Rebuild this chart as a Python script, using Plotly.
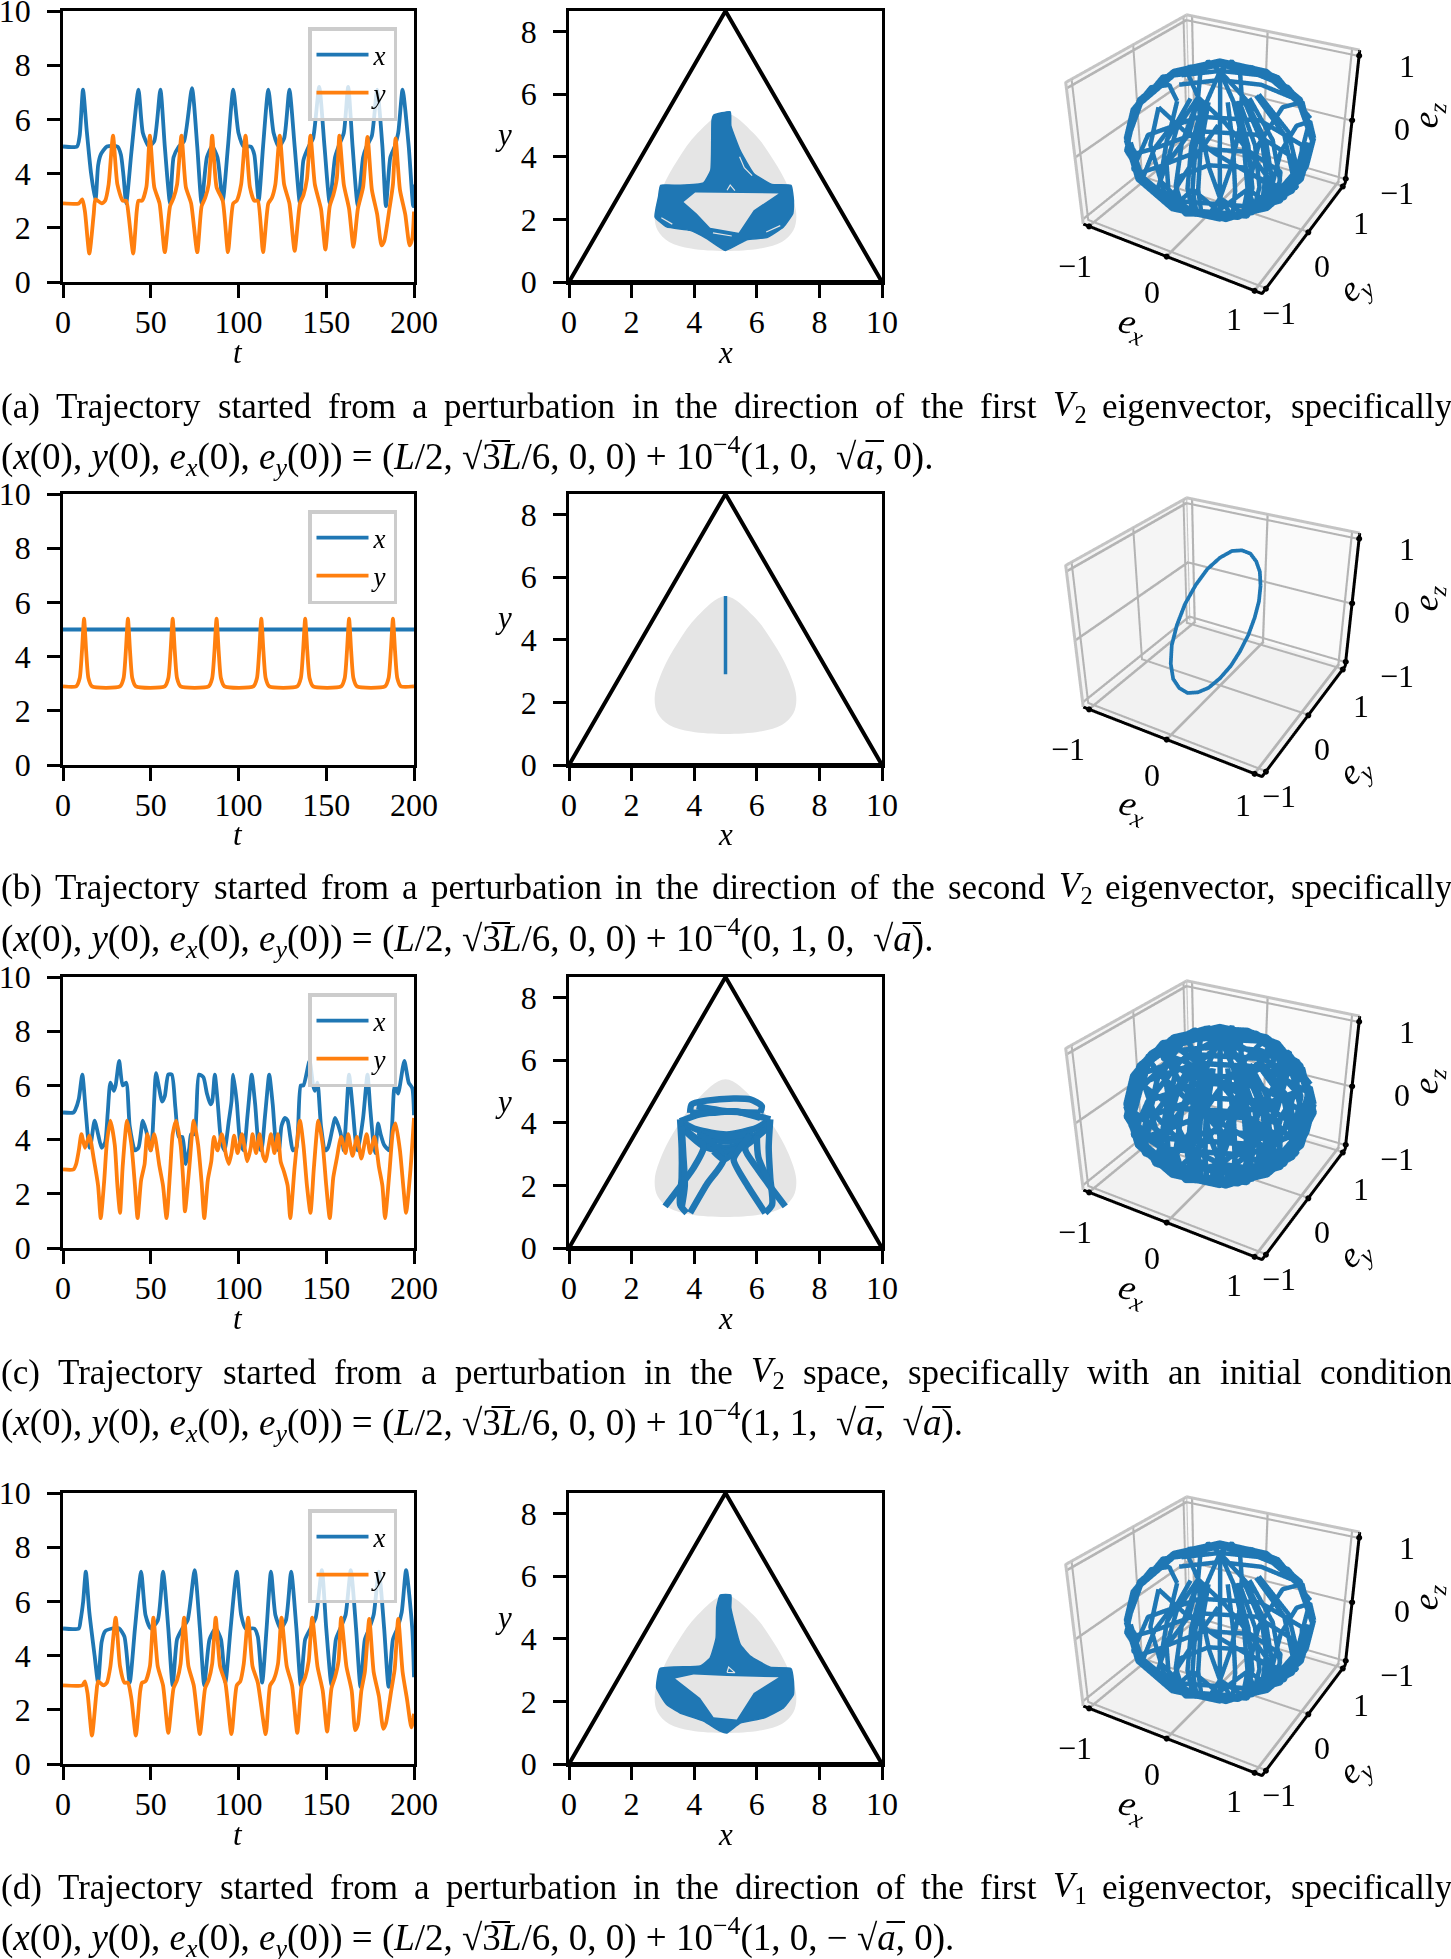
import plotly.graph_objects as go

W, H = 1451, 1959
BLUE = "#1f77b4"
ORANGE = "#ff7f0e"
GRAY = "#e5e5e5"
SERIF = "Liberation Serif"

# time series, (t, value) per panel
T_XA = [0,8,9.5,11.4,13.5,16,18.5,20,21.5,25,31,33,34.5,36,39,43,45.5,49,52,55.5,58,61,63,66,69,73.5,76.5,79,82,85,88,91,94,97,100,103,107,109,111.5,114,117,120,123,126,129,132,135,137,140,142.5,146,149,152,155,157,160,162.5,165,168,171,173,176,179,182,184,186.5,189,191,193.5,197,199.5,200]
X_A = [5,5,5.4,7.1,5.6,4,3,4.3,4.7,5,5,4.7,3.9,2.9,4.8,7.1,5.5,5,5.2,7.1,5,2.9,4.6,5,5.2,7.15,5,2.9,4.6,5,4.6,3,5,7.1,5.5,5,5,4.7,3,5,7.1,5.5,5,5.3,7.1,5,2.9,4.5,5,5.3,7.2,5,2.9,4.6,5,5.5,7.2,5,2.8,4.6,5,5.4,7.1,5,2.8,4.6,5,5.5,7.1,5,2.8,3.6]
T_YA = [0,9,11,12.5,15,17.5,18.5,22,24,26,28.5,31,34,36,37.5,40,42,43,45,47.5,49.5,52,55,58,61,63,65,67.5,70,73,76.5,79,81,83,85,87.5,91,94,97,99,101.5,104,106.5,109,111,114,117,119,121,123.5,126,129,132,135,137,139,141,143.5,147,149.5,152,154,156,157.5,160,163,165.5,168,171,173.5,176,179,181.5,183,186,188,189.5,192,195,197.5,199,200]
Y_A = [2.9,2.9,3.05,2.6,1.05,2.5,3.05,2.9,3,3.6,5.4,3.6,3,3,2.4,1.05,2.6,3,3,3.5,5.4,3.5,2.9,1.1,2.8,3.1,3.6,5.4,3.5,2.9,1.1,2.8,3.1,3.6,5.4,3.5,3,1.1,2.9,3,3.6,5.4,3.5,3,3,1.1,2.9,3.1,3.6,5.4,3.6,2.9,1.15,2.9,3.2,3.8,5.4,3.6,2.7,1.2,2.8,3.2,3.8,5.4,3.6,2.7,1.3,2.7,3.5,5.35,3.4,2.5,1.35,1.5,2.7,3.6,5.3,3.4,2.5,1.35,1.6,2.6]

T_XB = [0,200]
X_B = [5,5]
T_YB = [0,7.5,9.5,10.8,12,13.2,14.5,16.5,32.5,34.5,35.8,37,38.2,39.5,41.5,58,60,61.3,62.5,63.7,65,67,83,85,86.3,87.5,88.7,90,92,108.5,110.5,111.8,113,114.2,115.5,117.5,133.5,135.5,136.8,138,139.2,140.5,142.5,158.5,160.5,161.8,163,164.2,165.5,167.5,183.5,185.5,186.8,188,189.2,190.5,192.5,200]
Y_B = [2.9,2.9,3.2,4.2,5.4,4.2,3.2,2.9,2.9,3.2,4.2,5.4,4.2,3.2,2.9,2.9,3.2,4.2,5.4,4.2,3.2,2.9,2.9,3.2,4.2,5.4,4.2,3.2,2.9,2.9,3.2,4.2,5.4,4.2,3.2,2.9,2.9,3.2,4.2,5.4,4.2,3.2,2.9,2.9,3.2,4.2,5.4,4.2,3.2,2.9,2.9,3.2,4.2,5.4,4.2,3.2,2.9,2.9]

T_XC = [0,6,7,9,11,13,15,16,18,20,22,24,25.5,27,29,30,32,34,36,38,41,43,45.5,47.5,50,51,52,53,56.5,58,60,62,64,66,68,70,72,73,75,76,77.5,80,82,84,85,86.5,88,90,92,94.5,96,97,99,101,103,105,106,107.5,109.5,111.5,113,115,116,117.5,119.5,121.5,123,124.5,126.5,128,129.5,131,133,134,135.5,137,140.5,142.5,143.5,145,147,149.5,151,153.5,155,157,159,160,161.5,163,165,167,168,171,173.5,175,177,178,179.5,181,183,186,187.5,189,191,192,194.5,197,199,200]
X_C = [5,5,5.1,5.5,6.4,5,3.7,3.9,4.7,4.2,3.7,3.9,5,6.1,5.8,6,6.9,6,6.1,4.5,3.6,3.7,4.7,4.3,3.6,4.2,5.5,6.45,5.4,5.6,6.4,6.4,5.2,4.1,4.1,3.1,3.7,4.2,4.2,5,6.4,6.3,5.7,5.3,5.4,6.4,5.5,4,3.6,4.7,5.4,6.4,5.4,3.9,3.6,4.8,5.5,6.4,5.3,3.8,3.6,4.8,5.5,6.4,5.3,3.8,3.6,4.5,4.8,4.7,4.1,3.6,3.7,4.5,6,6,6.9,6,5.8,6.1,4.5,3.6,3.7,4.4,4.8,4.5,4,3.6,5,6.4,5.2,3.8,3.6,4.8,6.4,5.2,3.8,3.5,4.6,4.2,3.8,3.6,4.5,6,5.7,6,6.9,6.1,5.9,4.9]
T_YC = [0,6,7.5,9,10.5,12.5,15,17.5,20,21.5,23.5,25,27,29.5,31,32.5,34,36.5,39,41,42.5,44.5,46.5,48,50,52,55,57,59,61,62.5,64.5,67,68.5,69.5,72,74.5,77,79,80.5,82.5,84.5,86,88,90.5,93,94.5,96,97.5,99.5,102,104,105,107,108,110,112,114,115.5,117,118.5,120.5,122.5,124,126,128,129.5,132,135,137,139,141,143,145.5,148,150,152,154,156,158.5,161,162.5,165,167.5,170,173,175,177.5,180,182,183.5,186,188,189.5,192,194,195.5,198,200]
Y_C = [2.9,2.9,3.1,3.6,4.2,3.7,4.15,3.3,2.3,1.1,2.5,3.9,4.7,3.8,2.3,1.3,3,4.7,3.8,2.3,1.1,2.5,3.1,4.2,3.6,4.2,3,2.3,1.1,2.8,4.2,4.7,3.8,2.5,1.35,3,4.7,3.8,2.4,1.1,2.5,3.2,4.1,3.6,4.2,3.4,3.1,3.5,4.15,3.5,4.2,3.5,3.2,3.7,4.2,3.5,4.2,3.4,3.2,3.7,4.2,3.5,4.2,3.2,2.8,2.3,1.1,3,4.7,3.8,2.3,1.3,3,4.7,3.8,2.3,1.1,2.6,3.3,4.1,3.5,4.2,3.4,4.1,3.3,4.2,3.5,4.1,3,2.3,1.1,2.8,4.3,4.6,3.6,2.2,1.3,2.9,4.8]

T_XD = [0,9,10,11.5,13,15,18,20,22,24,28,32,35,38,41,44.5,47,50,54,57,60,62.5,65,68,71,75,78,80.5,83.5,87,90,92.5,95.5,99,101.5,104,109,111,113.5,116,118.5,121,124,127,130,133,135.5,138,141,144,147.5,150,153,155.5,158,161,164,167,169.5,172,174.5,177,180,183,185.5,188,190.5,193,195.5,199,200]
X_D = [5,5,5.3,6,7.1,5.6,4,3,4.5,4.9,5,5,4.7,3,5,7.1,5.5,5,5.3,7.1,5,2.9,4.6,5,5.3,7.15,5,2.9,4.6,5,4.6,3,5,7.1,5.5,5,5,4.7,3,5,7.1,5.5,5,5.3,7.1,5,2.9,4.6,5,5.4,7.15,5,2.9,4.6,5,5.5,7.15,5,2.85,4.6,5,5.5,7.1,5,2.85,4.6,5,5.6,7.15,5,3.2]
T_YD = [0,11,12.5,14,16.5,19,20,23,25,27,30,32.5,35,37,39,41.5,44,45,47,49.5,51.5,54,57,60,63,65,67,69,71.5,74.5,78,81,83,85,87,89.5,92.5,96,99,101,103,105.5,108,111,115.5,118,120,122.5,124.5,127.5,130.5,133.5,136,138,140,142,145,148,150.5,153,155,157,158.5,161.5,164.5,166.5,168,170,172,174.5,177,180,182.5,184,187,189,191,193.5,196,198.5,200]
Y_D = [2.9,2.9,3.05,2.6,1.05,2.6,3.05,2.9,3,3.6,5.4,3.6,3,3,2.4,1.05,2.7,3,3.05,3.6,5.4,3.6,2.9,1.15,2.8,3.1,3.7,5.4,3.6,2.9,1.1,2.8,3.1,3.7,5.4,3.6,3,1.1,2.9,3.05,3.7,5.4,3.6,3,1.1,2.9,3.1,3.7,5.4,3.6,2.9,1.15,2.9,3.2,3.8,5.4,3.6,2.7,1.2,2.8,3.2,3.8,5.4,3.6,2.7,1.25,1.45,2.7,3.4,5.35,3.4,2.5,1.3,1.5,2.7,3.5,5.35,3.4,2.4,1.35,1.85]

# middle column: gray reachable region and the swept trajectory areas
REGION_X = [5,5.9,6.53,7,7.26,7.17,6.8,6.1,5,3.9,3.2,2.83,2.74,3,3.47,4.1,5]
REGION_Y = [5.39,4.75,3.9,3.04,2.19,1.65,1.28,1.07,0.99,1.07,1.28,1.65,2.19,3.04,3.9,4.75,5.39]
TRI_X = [0,5,10,0]
TRI_Y = [0,8.66,0,0]

BLOB_AX = [4.62,5.15,5.17,5.47,5.9,6.48,7.09,7.17,7.15,6.85,6.32,5.68,5,4.4,3.87,3.12,2.75,2.86,2.93,3.55,4.3,4.53,4.56,4.57,4.62]
BLOB_AY = [5.33,5.44,5,4.2,3.47,3.12,3.09,2.61,2.19,1.76,1.42,1.35,1.01,1.39,1.65,1.76,2.08,2.72,3.09,3.09,3.17,3.57,4.53,5.17,5.33]
HOLE_AX = [4.03,6.7,5.9,5.42,4.51,4.08,3.66,4.03]
HOLE_AY = [2.86,2.83,2.29,1.57,1.73,2.19,2.56,2.86]
SLIT_AX = [5.45,5.6,5.85,None,5.05,5.15,5.3,None,2.95,3.3,None,6.3,6.75,None,4.6,5.2]
SLIT_AY = [4.0,3.65,3.4,None,2.93,3.1,2.92,None,2.05,1.85,None,1.6,1.8,None,1.57,1.47]

BLOB_DX = [4.83,5.17,5.17,5.47,5.79,6.43,7.09,7.17,7.17,6.85,6.22,5.47,5.04,4.83,4.3,3.55,3.12,2.8,2.91,4.19,4.51,4.7,4.72,4.83]
BLOB_DY = [5.4,5.4,4.99,3.82,3.45,3.09,3.05,2.65,2.22,1.79,1.47,1.31,0.99,1.05,1.37,1.63,1.9,2.43,3.05,3.13,3.39,4.03,4.99,5.4]
HOLE_DX = [3.39,3.98,5.04,6.7,5.9,5.36,4.62,4.19,3.39]
HOLE_DY = [2.73,2.86,2.81,2.77,2.27,1.42,1.49,2.11,2.73]
SLIT_DX = [5.05,5.1,5.3,5.05]
SLIT_DY = [2.93,3.1,2.92,2.93]

MID_BX = [5,5]
MID_BY = [2.9,5.4]

MID_CX = [3.87,3.92,4.4,5.26,5.79,6.16,6.11,None,3.87,4.62,5.26,6.11,None,4.08,5.04,6.11,None,3.55,4.08,5.04,6,6.43,None,3.55,4.19,5.26,6.43,None,3.55,4.19,5.04,5.68,6.43,None,3.7,4.3,5,5.6,6.3,None,4.2,5,5.8,None,4.1,5,5.9,None,4.4,5,5.6,None,3.55,3.6,3.6,3.55,3.76,None,3.6,3.65,3.7,3.6,None,3.07,3.6,3.98,4.3,4.19,None,3.87,4.4,4.94,4.62,4.19,None,6.91,6.38,6,5.63,5.79,None,6.27,5.68,5.26,5.47,5.79,None,6.43,6.38,6.43,6.49,6.27,None,6,6.05,6.43,None,4.62,4.94,5.26]
MID_CY = [4.32,4.59,4.71,4.78,4.75,4.53,4.32,None,4.32,4.32,4.37,4.16,None,4.53,4.37,4.32,None,4.05,3.79,3.63,3.84,4.11,None,4.05,4.27,4.37,4.11,None,3.95,3.41,3.2,3.41,4,None,3.75,3.25,3.1,3.25,3.8,None,3.55,3.4,3.55,None,3.7,3.55,3.7,None,3.3,3.05,3.3,None,4.11,3.2,2.24,1.39,1.12,None,3.9,3,2,1.3,None,1.33,2.03,2.56,3.2,3.63,None,1.12,2.03,2.83,3.31,3.63,None,1.33,2.03,2.56,3.15,3.63,None,1.12,2.03,2.83,3.2,3.63,None,4.11,3.2,2.24,1.39,1.12,None,3.6,2.9,2.03,None,3.09,2.83,3.04]

# orientation vector sphere, rough loops traced by eye
RIM = [(.87,.5,0),(.625,.65,.43),(.22,.625,.75),(-.25,.43,.87),(-.65,.125,.75),(-.875,-.217,.43),(-.87,-.5,0),(-.625,-.65,-.43),(-.22,-.625,-.75),(.25,-.43,-.87),(.65,-.125,-.75),(.875,.217,-.43),(.87,.5,0)]
RIM_TOP1 = [(.94,.305,.12),(.71,.45,.54),(.31,.43,.85),(-.14,.24,.96),(-.53,-.06,.85),(-.75,-.39,.54),(-.74,-.665,.12)]
RIM_TOP2 = [(.96,.22,.165),(.73,.36,.565),(.35,.34,.875),(-.095,.15,.985),(-.47,-.13,.875),(-.68,-.45,.565),(-.68,-.72,.165)]
RIM_LOW1 = [(-.74,-.665,.12),(-.51,-.81,-.3),(-.11,-.79,-.61),(.34,-.6,-.72),(.73,-.3,-.61),(.95,.03,-.3),(.94,.305,.12)]
RIM_LOW2 = [(-.68,-.72,.165),(-.45,-.86,-.24),(-.07,-.84,-.54),(.375,-.65,-.65),(.75,-.37,-.54),(.96,-.05,-.24),(.96,.22,.165)]
RIM_LOW3 = [(-.58,-.79,.225),(-.36,-.92,-.155),(0,-.9,-.44),(.42,-.72,-.55),(.77,-.45,-.44),(.97,-.15,-.155),(.97,.1,.225)]
MER_45 = [(0,0,1),(.35,-.35,.87),(.61,-.61,.5),(.71,-.71,0),(.61,-.61,-.5),(.35,-.35,-.87),(0,0,-1),(-.35,.35,-.87),(-.61,.61,-.5),(-.71,.71,0),(-.61,.61,.5),(-.35,.35,.87),(0,0,1)]
MER_30 = [(0,0,1),(.43,-.25,.87),(.75,-.43,.5),(.87,-.5,0),(.75,-.43,-.5),(.43,-.25,-.87),(0,0,-1)]
MER_60 = [(0,0,1),(.25,-.43,.87),(.43,-.75,.5),(.5,-.87,0),(.43,-.75,-.5),(.25,-.43,-.87),(0,0,-1)]
MER_15 = [(.48,-.13,.87),(.84,-.22,.5),(.97,-.26,0),(.84,-.22,-.5),(.48,-.13,-.87)]
MER_75 = [(0,0,1),(.13,-.48,.87),(.22,-.84,.5),(.26,-.97,0),(.22,-.84,-.5),(.13,-.48,-.87),(0,0,-1),(-.13,.48,-.87),(-.22,.84,-.5),(-.26,.97,0),(-.22,.84,.5),(-.13,.48,.87),(0,0,1)]
MER_85 = [(.04,-.5,.87),(.08,-.86,.5),(.09,-1,0),(.08,-.86,-.5),(.04,-.5,-.87)]
MER_10 = [(.49,-.09,.87),(.85,-.15,.5),(.98,-.17,0),(.85,-.15,-.5),(.49,-.09,-.87)]
MER_25 = [(.45,-.21,.87),(.79,-.37,.5),(.91,-.42,0),(.79,-.37,-.5),(.45,-.21,-.87)]
MER_33 = [(.42,-.27,.87),(.73,-.47,.5),(.84,-.54,0),(.73,-.47,-.5),(.42,-.27,-.87)]
MER_38 = [(.39,-.31,.87),(.69,-.54,.5),(.79,-.62,0),(.69,-.54,-.5),(.39,-.31,-.87)]
MER_42 = [(.37,-.33,.87),(.64,-.58,.5),(.74,-.67,0),(.64,-.58,-.5),(.37,-.33,-.87)]
MER_52 = [(.31,-.39,.87),(.54,-.69,.5),(.62,-.79,0),(.54,-.69,-.5),(.31,-.39,-.87)]
MER_68 = [(.19,-.46,.87),(.32,-.81,.5),(.37,-.93,0),(.32,-.81,-.5),(.19,-.46,-.87)]
MER_72 = [(.15,-.48,.87),(.27,-.83,.5),(.31,-.95,0),(.27,-.83,-.5),(.15,-.48,-.87)]
MER_78 = [(.1,-.49,.87),(.18,-.85,.5),(.21,-.98,0),(.18,-.85,-.5),(.1,-.49,-.87)]
MER_95 = [(-.04,-.5,.87),(-.08,-.87,.5),(-.09,-1,0),(-.08,-.87,-.5),(-.04,-.5,-.87)]
MER_125 = [(-.29,-.41,.87),(-.5,-.71,.5),(-.57,-.82,0),(-.5,-.71,-.5),(-.29,-.41,-.87)]
MER_150 = [(-.43,-.25,.87),(-.75,-.43,.5),(-.87,-.5,0),(-.75,-.43,-.5),(-.43,-.25,-.87)]
ARC_Z7 = [(.62,.36,.7),(.36,.62,.7),(0,.71,.7),(-.36,.62,.7),(-.62,.36,.7)]
ARC_Z5 = [(.75,.43,.5),(.43,.75,.5),(0,.87,.5),(-.43,.75,.5),(-.75,.43,.5)]
ARC_Z3 = [(.82,.48,.3),(.48,.82,.3),(0,.95,.3),(-.48,.82,.3),(-.82,.48,.3)]
LEFT_R5 = [(-.87,.5,0),(-.87,.35,.35),(-.87,0,.5),(-.87,-.35,.35),(-.87,-.5,0),(-.87,-.35,-.35),(-.87,0,-.5),(-.87,.35,-.35),(-.87,.5,0)]
LEFT_R7 = [(-.71,.71,0),(-.71,.5,.5),(-.71,0,.71),(-.71,-.5,.5),(-.71,-.71,0),(-.71,-.5,-.5),(-.71,0,-.71),(-.71,.5,-.5),(-.71,.71,0)]
RIGHT_R7 = [(.71,.71,0),(.71,.5,.5),(.71,0,.71),(.71,-.5,.5),(.71,-.71,0),(.71,-.5,-.5),(.71,0,-.71),(.71,.5,-.5),(.71,.71,0)]
RIGHT_R5 = [(.87,.5,0),(.87,.35,.35),(.87,0,.5),(.87,-.35,.35),(.87,-.5,0),(.87,-.35,-.35),(.87,0,-.5),(.87,.35,-.35),(.87,.5,0)]
RIGHT_R8 = [(.5,.87,0),(.5,.61,.61),(.5,0,.87),(.5,-.61,.61),(.5,-.87,0),(.5,-.61,-.61),(.5,0,-.87),(.5,.61,-.61),(.5,.87,0)]
LOW_Z5 = [(.87,0,-.5),(.61,-.61,-.5),(0,-.87,-.5),(-.61,-.61,-.5),(-.87,0,-.5),(-.61,.61,-.5),(0,.87,-.5),(.61,.61,-.5),(.87,0,-.5)]
LOW_Z3 = [(.95,0,-.3),(.67,-.67,-.3),(0,-.95,-.3),(-.67,-.67,-.3),(-.95,0,-.3),(-.67,.67,-.3),(0,.95,-.3),(.67,.67,-.3),(.95,0,-.3)]
LOW_Z7 = [(.71,0,-.7),(.5,-.5,-.7),(0,-.71,-.7),(-.5,-.5,-.7),(-.71,0,-.7),(-.5,.5,-.7),(0,.71,-.7),(.5,.5,-.7),(.71,0,-.7)]
LOW_Z85 = [(.53,0,-.85),(.37,-.37,-.85),(0,-.53,-.85),(-.37,-.37,-.85),(-.53,0,-.85),(-.37,.37,-.85),(0,.53,-.85),(.37,.37,-.85),(.53,0,-.85)]
MID_Z0 = [(1,0,0),(.71,-.71,0),(0,-1,0),(-.71,-.71,0),(-1,0,0),(-.71,.71,0),(0,1,0),(.71,.71,0),(1,0,0)]
MID_Z15 = [(.99,0,.15),(.7,-.7,.15),(0,-.99,.15),(-.7,-.7,.15),(-.99,0,.15),(-.7,.7,.15),(0,.99,.15),(.7,.7,.15),(.99,0,.15)]
HIGH_Z5 = [(.87,0,.5),(.61,-.61,.5),(0,-.87,.5),(-.61,-.61,.5),(-.87,0,.5),(-.61,.61,.5),(0,.87,.5),(.61,.61,.5),(.87,0,.5)]
HIGH_Z8 = [(.6,0,.8),(.42,-.42,.8),(0,-.6,.8),(-.42,-.42,.8),(-.6,0,.8),(-.42,.42,.8),(0,.6,.8),(.42,.42,.8),(.6,0,.8)]
MER_110 = [(0,0,1),(-.17,-.47,.87),(-.3,-.81,.5),(-.34,-.94,0),(-.3,-.81,-.5),(-.17,-.47,-.87),(0,0,-1),(.17,.47,-.87),(.3,.81,-.5),(.34,.94,0),(.3,.81,.5),(.17,.47,.87),(0,0,1)]
MER_0 = [(0,0,1),(.5,0,.87),(.87,0,.5),(1,0,0),(.87,0,-.5),(.5,0,-.87),(0,0,-1),(-.5,0,-.87),(-.87,0,-.5),(-1,0,0),(-.87,0,.5),(-.5,0,.87),(0,0,1)]
MER_20 = [(.47,.17,.87),(.81,.3,.5),(.94,.34,0),(.81,.3,-.5),(.47,.17,-.87)]
# tilted circles
TILT_1 = [(.71,-.71,0),(.83,-.41,.41),(.71,0,.71),(.41,.41,.82),(0,.71,.71),(-.41,.83,.41),(-.71,.71,0),(-.83,.41,-.41),(-.71,0,-.71),(-.41,-.41,-.82),(0,-.71,-.71),(.41,-.83,-.41),(.71,-.71,0)]
TILT_2 = [(.71,-.71,0),(.41,-.83,.41),(0,-.71,.71),(-.41,-.41,.82),(-.71,0,.71),(-.83,.41,.41),(-.71,.71,0),(-.41,.83,-.41),(0,.71,-.71),(.41,.41,-.82),(.71,0,-.71),(.83,-.41,-.41),(.71,-.71,0)]
TILT_3 = [(.26,-.97,0),(.47,-.77,.44),(.54,-.38,.76),(.47,.13,.87),(.28,.6,.76),(.01,.91,.44),(-.26,.97,0),(-.47,.77,-.44),(-.54,.38,-.76),(-.47,-.13,-.87),(-.28,-.6,-.76),(-.01,-.91,-.44),(.26,-.97,0)]
TILT_4 = [(.26,-.97,0),(-.01,-.91,.44),(-.28,-.6,.76),(-.47,-.13,.87),(-.54,.38,.76),(-.47,.77,.44),(-.26,.97,0),(.01,.91,-.44),(.28,.6,-.76),(.47,.13,-.87),(.54,-.38,-.76),(.47,-.77,-.44),(.26,-.97,0)]
TILT_5 = [(.97,-.26,0),(.91,.02,.44),(.6,.28,.76),(.13,.47,.87),(-.38,.54,.76),(-.77,.47,.44),(-.97,.26,0),(-.91,-.02,-.44),(-.6,-.28,-.76),(-.13,-.47,-.87),(.38,-.54,-.76),(.77,-.47,-.44),(.97,-.26,0)]
TILT_6 = [(.97,-.26,0),(.77,-.46,.44),(.38,-.54,.76),(-.13,-.47,.87),(-.6,-.28,.76),(-.91,-.02,.44),(-.97,.26,0),(-.77,.46,-.44),(-.38,.54,-.76),(.13,.47,-.87),(.6,.28,-.76),(.91,.02,-.44),(.97,-.26,0)]

LOOPS_A = [RIM,RIM_TOP1,RIM_TOP2,RIM_LOW1,RIM_LOW2,RIM_LOW3,MER_45,MER_30,MER_60,MER_15,MER_75,MER_85,MER_33,MER_38,MER_42,MER_52,MER_72,MER_78,MER_10,MER_25,MER_95,ARC_Z7,ARC_Z5,ARC_Z3,LEFT_R5,LEFT_R7,RIGHT_R7,RIGHT_R5,LOW_Z3,LOW_Z5,LOW_Z7,LOW_Z85,TILT_1[6:13],TILT_2[6:13],TILT_4[6:13],TILT_5[6:13],TILT_6[6:13],TILT_3[7:13]]
LOOPS_C = [RIM,RIM_TOP1,RIM_TOP2,RIM_LOW1,RIM_LOW2,RIM_LOW3,MER_45,MER_30,MER_60,MER_15,MER_75,MER_85,MER_110,MER_0,MER_20,MER_10,MER_25,MER_33,MER_38,MER_42,MER_52,MER_68,MER_72,MER_78,MER_95,MER_125,MER_150,ARC_Z7,ARC_Z5,ARC_Z3,LEFT_R5,LEFT_R7,RIGHT_R7,RIGHT_R5,RIGHT_R8,LOW_Z3,LOW_Z5,LOW_Z7,LOW_Z85,MID_Z0,MID_Z15,HIGH_Z5,HIGH_Z8,TILT_1,TILT_2,TILT_3,TILT_4,TILT_5,TILT_6]

RING_EX = [0]*25
RING_EY = [.95,.92,.82,.67,.47,.25,0,-.25,-.47,-.67,-.82,-.92,-.95,-.92,-.82,-.67,-.47,-.25,0,.25,.47,.67,.82,.92,.95]
RING_EZ = [0,.25,.47,.67,.82,.92,.95,.92,.82,.67,.47,.25,0,-.25,-.47,-.67,-.82,-.92,-.95,-.92,-.82,-.67,-.47,-.25,0]

T_TICKS = [0,50,100,150,200]
V_TICKS = [0,2,4,6,8,10]
XM_TICKS = [0,2,4,6,8,10]
YM_TICKS = [0,2,4,6,8]
E_TICKS = [-1,0,1]
E_LABELS = ["−1","0","1"]
E_EDGE = 1.08

ROW_DY = [0,483,966,1482]
LINE_3D = [9, 7.5, 11, 9]

# pixel places of the 3D tick labels inside a row
EX_LABEL_POS = [(1075,266),(1152,292),(1234,319)]
EX_LABEL_POS_B = [(1068,266),(1152,292),(1243,322)]
EY_LABEL_POS = [(1279,313),(1322,266),(1361,223)]
EZ_LABEL_POS = [(1397,193),(1402,129),(1407,66)]

CAPTIONS = [
    ("(a) Trajectory started from a perturbation in the direction of the first V2 eigenvector, specifically", 406,
     "(<i>x</i>(0), <i>y</i>(0), <i>e<sub>x</sub></i>(0), <i>e<sub>y</sub></i>(0)) = (<i>L</i>/2, √3\u0305<i>L</i>/6, 0, 0) + 10<sup>−4</sup>(1, 0,  √<i>a</i>\u0305, 0)."),
    ("(b) Trajectory started from a perturbation in the direction of the second V2 eigenvector, specifically", 888,
     "(<i>x</i>(0), <i>y</i>(0), <i>e<sub>x</sub></i>(0), <i>e<sub>y</sub></i>(0)) = (<i>L</i>/2, √3\u0305<i>L</i>/6, 0, 0) + 10<sup>−4</sup>(0, 1, 0,  √<i>a</i>\u0305)."),
    ("(c) Trajectory started from a perturbation in the V2 space, specifically with an initial condition", 1372,
     "(<i>x</i>(0), <i>y</i>(0), <i>e<sub>x</sub></i>(0), <i>e<sub>y</sub></i>(0)) = (<i>L</i>/2, √3\u0305<i>L</i>/6, 0, 0) + 10<sup>−4</sup>(1, 1,  √<i>a</i>\u0305,  √<i>a</i>\u0305)."),
    ("(d) Trajectory started from a perturbation in the direction of the first V1 eigenvector, specifically", 1887,
     "(<i>x</i>(0), <i>y</i>(0), <i>e<sub>x</sub></i>(0), <i>e<sub>y</sub></i>(0)) = (<i>L</i>/2, √3\u0305<i>L</i>/6, 0, 0) + 10<sup>−4</sup>(1, 0, − √<i>a</i>\u0305, 0)."),
]

# Times advance widths, used to spread the caption words over the full line
CHAR_W = dict(a=444,b=500,c=444,d=500,e=444,f=333,g=500,h=500,i=278,j=278,k=500,l=278,m=778,n=500,o=500,p=500,q=500,r=333,s=389,t=278,u=500,v=500,w=722,x=500,y=500,z=444,T=611)
CHAR_W.update({"(":333, ")":333, ",":250})
CAP_SIZE = 35

# scene canvas height and the middle of the box inside a row
SCENE_H = 570
BOX_MID_Y = 138
BOX_MID_X = 1220
# the first scene needs room above the page, so the figure is taller and slid up
PAGE_TOP = 150
FIG_H = H + PAGE_TOP


def px_x(p):
    return p / W


def px_y(p):
    return 1 - (p + PAGE_TOP) / FIG_H


def word_w(word):
    if word in ("V1", "V2"):
        return 0.95 * CAP_SIZE
    return sum(CHAR_W.get(c, 500) for c in word) / 1000 * CAP_SIZE


def note(text, x, y, size=CAP_SIZE, xanchor="left", angle=0):
    fig.add_annotation(text=text, x=px_x(x), y=px_y(y), xref="paper", yref="paper", showarrow=False,
                       xanchor=xanchor, yanchor="middle", textangle=angle, borderpad=0,
                       font=dict(family=SERIF, size=size, color="black"))


def axis2d(dom, rng, ticks, anchor, standoff):
    return dict(domain=dom, range=rng, tickvals=ticks, ticks="outside", ticklen=13, tickwidth=2.6,
                tickcolor="black", showline=True, linecolor="black", linewidth=2.8, mirror=True,
                showgrid=False, zeroline=False, anchor=anchor, ticklabelstandoff=standoff, automargin=False,
                ticklabeloverflow="allow",
                tickfont=dict(family=SERIF, size=32, color="black"))


def flat(loops):
    ex, ey, ez = [], [], []
    for loop in loops:
        for p in loop:
            ex.append(p[0])
            ey.append(p[1])
            ez.append(p[2])
        ex.append(None)
        ey.append(None)
        ez.append(None)
    return ex, ey, ez


def scene_axis(color):
    return dict(range=[-E_EDGE, E_EDGE], tickvals=E_TICKS, title=dict(text=""), showticklabels=False,
                showbackground=True, backgroundcolor=color, gridcolor="#b4b4b4", gridwidth=6,
                showline=False, zeroline=False, showspikes=False, ticks="")


fig = go.Figure()
layout = {}

series = [(T_XA, X_A, T_YA, Y_A), (T_XB, X_B, T_YB, Y_B), (T_XC, X_C, T_YC, Y_C), (T_XD, X_D, T_YD, Y_D)]
loops3d = [flat(LOOPS_A), (RING_EX, RING_EY, RING_EZ), flat(LOOPS_C), flat(LOOPS_A)]

for r, (tx, vx, ty, vy) in enumerate(series):
    dy = ROW_DY[r]
    a, b = 2 * r + 1, 2 * r + 2
    xa, ya, xb, yb = f"x{a}", f"y{a}", f"x{b}", f"y{b}"
    leg = "legend" if r == 0 else f"legend{r + 1}"

    fig.add_trace(go.Scatter(x=tx, y=vx, name="<i>x</i>", mode="lines", xaxis=xa, yaxis=ya, legend=leg,
                             line=dict(color=BLUE, width=3.8, shape="spline", smoothing=0.6)))
    fig.add_trace(go.Scatter(x=ty, y=vy, name="<i>y</i>", mode="lines", xaxis=xa, yaxis=ya, legend=leg,
                             line=dict(color=ORANGE, width=3.8, shape="spline", smoothing=0.6)))
    layout[leg] = dict(x=px_x(308), y=px_y(27 + dy), xanchor="left", yanchor="top",
                       bgcolor="rgba(255,255,255,0.8)", bordercolor="#cccccc", borderwidth=3.5,
                       itemwidth=52, font=dict(family=SERIF, size=27, color="black"))

    xdom_t, xdom_m = [px_x(63), px_x(414)], [px_x(569), px_x(882)]
    ydom = [px_y(282 + dy), px_y(11 + dy)]
    layout[f"xaxis{a}"] = axis2d(xdom_t, [0, 200], T_TICKS, ya, -3)
    layout[f"yaxis{a}"] = axis2d(ydom, [0, 10], V_TICKS, xa, 10)
    layout[f"xaxis{b}"] = axis2d(xdom_m, [0, 10], XM_TICKS, yb, -3)
    layout[f"yaxis{b}"] = axis2d(ydom, [0, 8.66], YM_TICKS, xb, 10)

    fig.add_trace(go.Scatter(x=REGION_X, y=REGION_Y, mode="lines", fill="toself", fillcolor=GRAY, showlegend=False,
                             xaxis=xb, yaxis=yb, line=dict(width=0, color=GRAY, shape="spline", smoothing=1)))
    if r == 0 or r == 3:
        bx, by = (BLOB_AX, BLOB_AY) if r == 0 else (BLOB_DX, BLOB_DY)
        hx, hy = (HOLE_AX, HOLE_AY) if r == 0 else (HOLE_DX, HOLE_DY)
        sx, sy = (SLIT_AX, SLIT_AY) if r == 0 else (SLIT_DX, SLIT_DY)
        fig.add_trace(go.Scatter(x=bx, y=by, mode="lines", fill="toself", fillcolor=BLUE, showlegend=False,
                                 xaxis=xb, yaxis=yb, line=dict(width=1.5, color=BLUE, shape="spline", smoothing=0.4)))
        fig.add_trace(go.Scatter(x=hx, y=hy, mode="lines", fill="toself", fillcolor=GRAY, showlegend=False,
                                 xaxis=xb, yaxis=yb, line=dict(width=0, color=GRAY)))
        fig.add_trace(go.Scatter(x=sx, y=sy, mode="lines", showlegend=False, xaxis=xb, yaxis=yb,
                                 line=dict(width=1.2, color=GRAY)))
    elif r == 1:
        fig.add_trace(go.Scatter(x=MID_BX, y=MID_BY, mode="lines", showlegend=False, xaxis=xb, yaxis=yb,
                                 line=dict(width=3.5, color=BLUE)))
    else:
        fig.add_trace(go.Scatter(x=MID_CX, y=MID_CY, mode="lines", showlegend=False, xaxis=xb, yaxis=yb,
                                 line=dict(width=6.5, color=BLUE, shape="spline", smoothing=0.7)))
    fig.add_trace(go.Scatter(x=TRI_X, y=TRI_Y, mode="lines", showlegend=False, xaxis=xb, yaxis=yb,
                             line=dict(width=4, color="black")))

    ex, ey, ez = loops3d[r]
    scene = "scene" if r == 0 else f"scene{r + 1}"
    fig.add_trace(go.Scatter3d(x=ex, y=ey, z=ez, mode="lines", showlegend=False, scene=scene,
                               connectgaps=False, line=dict(color=BLUE, width=LINE_3D[r])))
    lo, hi = -E_EDGE, E_EDGE
    # gray outline of the box panes
    fig.add_trace(go.Scatter3d(x=[lo, lo, lo, hi, None, lo, lo], y=[lo, lo, hi, hi, None, hi, hi],
                               z=[lo, hi, hi, hi, None, lo, hi], mode="lines", showlegend=False, scene=scene,
                               connectgaps=False, line=dict(color="#c4c4c4", width=6)))
    # black edges on the three outer box edges
    fig.add_trace(go.Scatter3d(x=[lo, hi, hi, hi], y=[lo, lo, hi, hi], z=[lo, lo, lo, hi], mode="lines",
                               showlegend=False, scene=scene, line=dict(color="black", width=6)))
    fig.add_trace(go.Scatter3d(x=E_TICKS + [hi] * 3 + [hi] * 3, y=[lo] * 3 + E_TICKS + [hi] * 3,
                               z=[lo] * 3 + [lo] * 3 + E_TICKS, mode="markers", showlegend=False, scene=scene,
                               marker=dict(color="black", size=3.5)))

    half_w = W - BOX_MID_X - 1
    top = BOX_MID_Y + dy - SCENE_H / 2
    layout[scene] = dict(domain=dict(x=[px_x(BOX_MID_X - half_w), px_x(BOX_MID_X + half_w)],
                                     y=[px_y(top + SCENE_H), px_y(top)]),
                         aspectmode="manual", aspectratio=dict(x=1, y=1, z=0.78),
                         camera=dict(eye=dict(x=1.47, y=-2.55, z=1.7), up=dict(x=0, y=0, z=1),
                                     center=dict(x=0, y=0, z=0)),
                         xaxis=scene_axis("#f5f5f5"), yaxis=scene_axis("#fafafa"), zaxis=scene_axis("#f2f2f2"),
                         bgcolor="rgba(0,0,0,0)")

    note("<i>t</i>", 238, 352 + dy, size=31, xanchor="center")
    note("<i>x</i>", 725, 352 + dy, size=31, xanchor="center")
    note("<i>y</i>", 503, 135 + dy, size=31, xanchor="center")
    note("<i>e<sub>x</sub></i>", 1132, 325 + dy, size=36, xanchor="center", angle=20)
    note("<i>e<sub>y</sub></i>", 1355, 287 + dy, size=36, xanchor="center", angle=-40)
    note("<i>e<sub>z</sub></i>", 1428, 115 + dy, size=36, xanchor="center", angle=-85)
    ex_pos = EX_LABEL_POS_B if r == 1 else EX_LABEL_POS
    for pos_list in (ex_pos, EY_LABEL_POS, EZ_LABEL_POS):
        for label, (px, py) in zip(E_LABELS, pos_list):
            note(label, px, py + dy, size=32, xanchor="center")

for line1, y1, line2 in CAPTIONS:
    words = line1.split(" ")
    gap = (W - sum(word_w(w) for w in words)) / (len(words) - 1)
    x = 0
    for w in words:
        label = w
        if w in ("V1", "V2"):
            label = f"<i>V</i><sub>{w[1]}</sub>"
        note(label, x, y1)
        x += word_w(w) + gap
    note(line2, 0, y1 + 50, size=37)

fig.update_layout(template="none", width=W, height=FIG_H, margin=dict(l=0, r=0, t=0, b=0, pad=0), paper_bgcolor="white", plot_bgcolor="white",
                  **layout)

fig.write_html("out.html", post_script=f"document.body.style.margin='-{PAGE_TOP}px 0 0 0';", config={"displayModeBar": False})
